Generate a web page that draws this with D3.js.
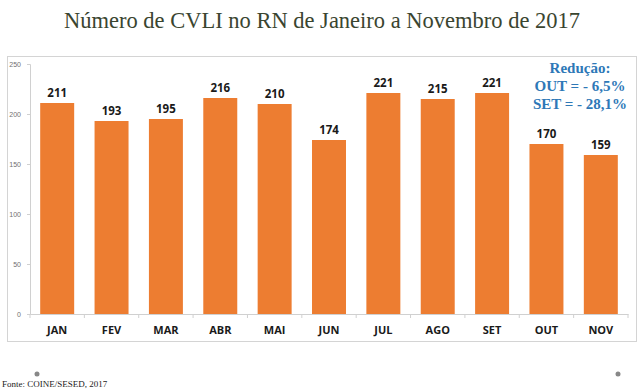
<!DOCTYPE html>
<html><head><meta charset="utf-8">
<script src="https://cdn.jsdelivr.net/npm/d3@7"></script>
<style>body{margin:0;background:#fff}svg{display:block}</style>
</head><body>
<svg id="c" width="640" height="391"></svg>
<script>
const categories = ["JAN","FEV","MAR","ABR","MAI","JUN","JUL","AGO","SET","OUT","NOV"];
const values = [211,193,195,216,210,174,221,215,221,170,159];
const yTicks = [0,50,100,150,200,250];
const noteLines = ["Redução:","OUT = - 6,5%","SET = - 28,1%"];
const titleText = "Número de CVLI no RN de Janeiro a Novembro de 2017";
const sourceText = "Fonte: COINE/SESED, 2017";

const svg = d3.select("#c");
const x = d3.scaleBand().domain(categories).range([30,628]).paddingInner(0.375).paddingOuter(0.1875);
const y = d3.scaleLinear().domain([0,250]).range([314,64]);

svg.append("text").attr("x",322).attr("y",28).attr("text-anchor","middle")
  .attr("font-family","Liberation Serif, serif").attr("font-size",22.5).attr("fill","#3a4530").text(titleText);

svg.append("rect").attr("x",7.5).attr("y",56.5).attr("width",629).attr("height",285)
  .attr("fill","none").attr("stroke","#d4d4d4");

// y axis
const ya = svg.append("g").attr("transform","translate(30,0)")
  .call(d3.axisLeft(y).tickValues(yTicks).tickSize(3).tickPadding(6));
ya.select(".domain").attr("stroke","#d0d0d0");
ya.selectAll(".tick line").attr("stroke","#d0d0d0");
ya.selectAll("text").attr("font-family","Liberation Sans, sans-serif").attr("font-size",7).attr("fill","#707070");

// x axis
const xa = svg.append("g").attr("transform","translate(0,314)")
  .call(d3.axisBottom(x).tickSize(0).tickPadding(12));
xa.select(".domain").attr("stroke","#d0d0d0");
xa.selectAll("text").attr("font-family","Open Sans, sans-serif").attr("font-weight","bold").attr("font-size",11).attr("fill","#1a1a1a");
svg.append("g").selectAll("line").data(d3.range(categories.length+1)).join("line")
  .attr("x1",i=>30+i*(598/categories.length)).attr("x2",i=>30+i*(598/categories.length))
  .attr("y1",314).attr("y2",318).attr("stroke","#d0d0d0");

svg.append("g").selectAll("rect").data(values).join("rect")
  .attr("x",(d,i)=>x(categories[i])).attr("width",x.bandwidth())
  .attr("y",d=>y(d)).attr("height",d=>y(0)-y(d)).attr("fill","#ed7d31");

svg.append("g").selectAll("text").data(values).join("text")
  .attr("x",(d,i)=>x(categories[i])+x.bandwidth()/2).attr("y",d=>y(d)-6)
  .attr("text-anchor","middle").attr("font-family","Open Sans, sans-serif").attr("font-weight","bold")
  .attr("font-size",11.5).attr("fill","#1a1a1a").text(d=>d);

svg.append("g").selectAll("text").data(noteLines).join("text")
  .attr("x",580).attr("y",(d,i)=>73+i*18).attr("text-anchor","middle")
  .attr("font-family","Liberation Serif, serif").attr("font-weight","bold").attr("font-size",15)
  .attr("fill","#2e78b7").text(d=>d);

svg.append("circle").attr("cx",37).attr("cy",374).attr("r",2.5).attr("fill","#888");
svg.append("circle").attr("cx",618).attr("cy",374).attr("r",2.5).attr("fill","#888");
svg.append("text").attr("x",2).attr("y",387).attr("font-family","Liberation Serif, serif")
  .attr("font-size",9).attr("fill","#222").text(sourceText);
</script>
</body></html>
